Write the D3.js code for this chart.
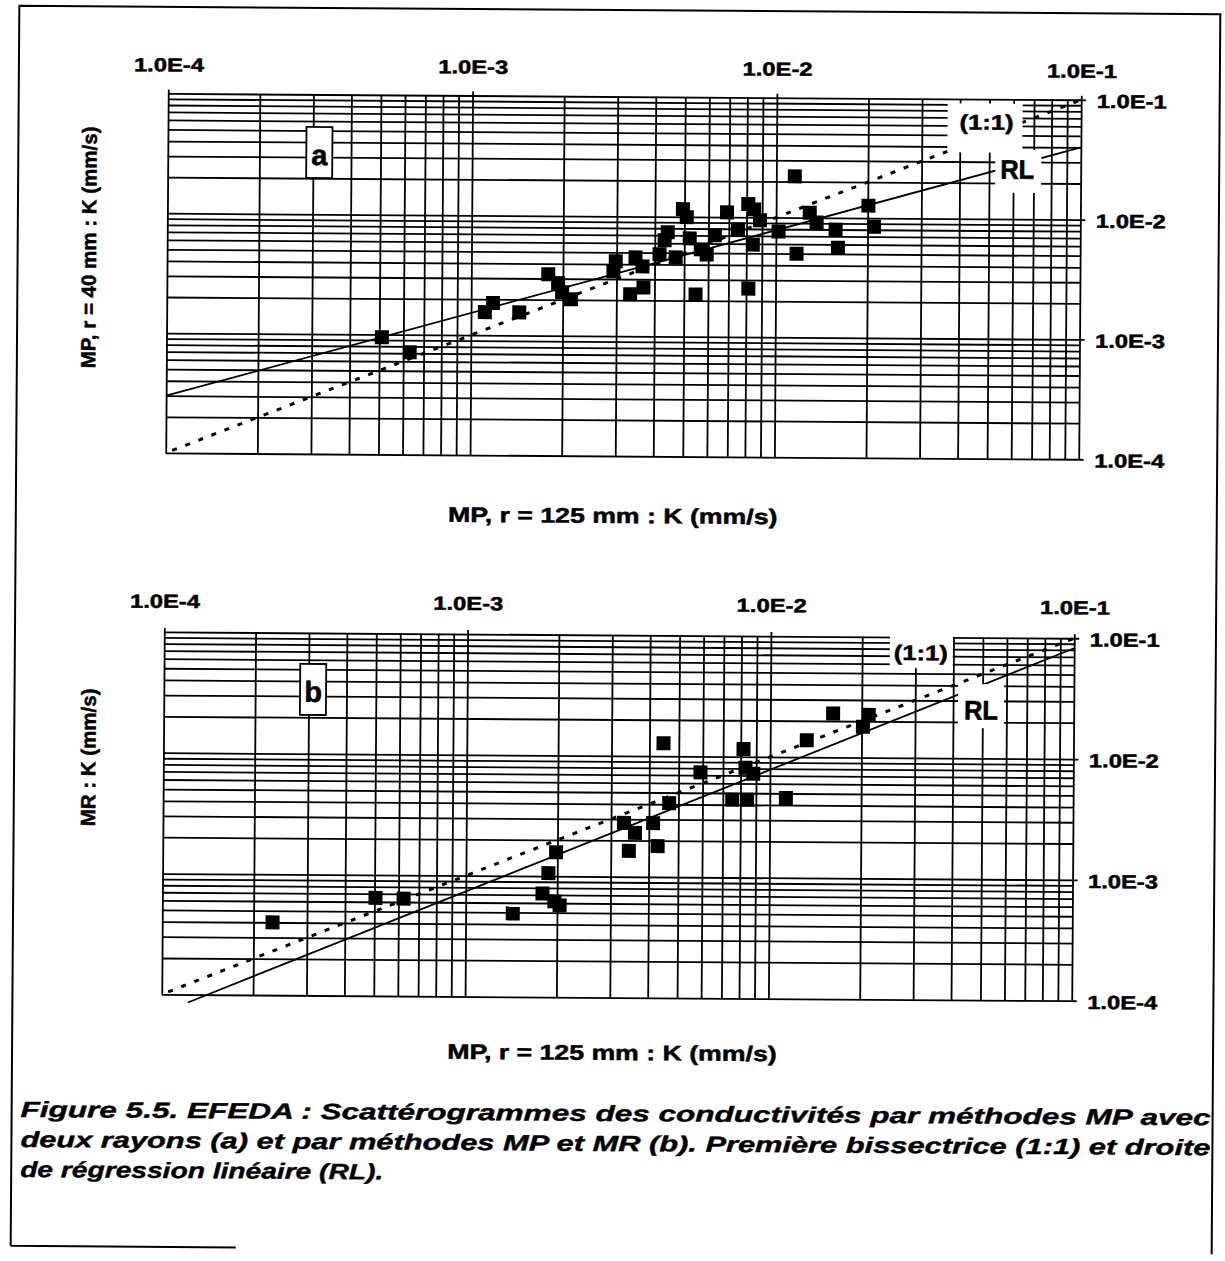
<!DOCTYPE html>
<html><head><meta charset="utf-8">
<script src="https://cdn.jsdelivr.net/npm/d3@7"></script>
<style>body{margin:0;background:#fff}svg{display:block}</style>
</head><body>
<svg id="fig" width="1225" height="1261"></svg>
<script>
// ---------------- DATA ----------------
const tickValues = [1e-4, 1e-3, 1e-2, 1e-1];
const tickLabels = ["1.0E-4", "1.0E-3", "1.0E-2", "1.0E-1"];

// Panel (a): MP r=125 mm (x) vs MP r=40 mm (y), K in mm/s
const aX = [5.1e-4, 6.3e-4, 1.11e-3, 1.18e-3, 1.44e-3, 1.79e-3, 1.93e-3, 1.99e-3, 2.13e-3, 2.98e-3,
            2.93e-3, 3.46e-3, 3.65e-3, 3.33e-3, 3.68e-3, 4.15e-3, 4.41e-3, 4.31e-3, 4.69e-3, 4.94e-3,
            5.09e-3, 5.21e-3, 5.67e-3, 5.93e-3, 5.46e-3, 6.3e-3, 6.9e-3, 7.5e-3, 8.1e-3, 8.47e-3,
            8.86e-3, 8.4e-3, 8.14e-3, 1.02e-2, 1.15e-2, 1.17e-2, 1.29e-2, 1.36e-2, 1.57e-2, 1.60e-2,
            2.01e-2, 2.10e-2];
const aY = [9.5e-4, 7.15e-4, 1.56e-3, 1.86e-3, 1.56e-3, 3.26e-3, 2.75e-3, 2.31e-3, 2.02e-3, 4.22e-3,
            3.48e-3, 4.56e-3, 3.84e-3, 2.24e-3, 2.56e-3, 4.86e-3, 7.42e-3, 6.35e-3, 4.58e-3, 1.16e-2,
            9.95e-3, 6.62e-3, 5.36e-3, 4.87e-3, 2.25e-3, 7.04e-3, 1.095e-2, 7.91e-3, 1.29e-2, 1.165e-2,
            9.45e-3, 5.92e-3, 2.54e-3, 7.64e-3, 2.21e-2, 5.0e-3, 1.10e-2, 9.12e-3, 7.98e-3, 5.64e-3,
            1.27e-2, 8.48e-3];

// Panel (b): MP r=125 mm (x) vs MR (y), K in mm/s
const bX = [2.31e-4, 5.04e-4, 6.24e-4, 1.43e-3, 1.79e-3, 1.96e-3, 2.04e-3, 1.87e-3, 1.98e-3, 3.31e-3,
            3.60e-3, 4.13e-3, 3.44e-3, 4.28e-3, 4.45e-3, 4.66e-3, 5.90e-3, 8.17e-3, 8.30e-3, 8.81e-3,
            7.52e-3, 8.42e-3, 1.13e-2, 1.32e-2, 1.61e-2, 2.11e-2, 2.02e-2];
const bY = [4.0e-4, 6.47e-4, 6.4e-4, 4.9e-4, 7.2e-4, 6.2e-4, 5.75e-4, 1.06e-3, 1.58e-3, 2.79e-3,
            2.31e-3, 2.79e-3, 1.64e-3, 1.80e-3, 1.28e-2, 4.09e-3, 7.38e-3, 1.16e-2, 8.11e-3, 7.25e-3,
            4.41e-3, 4.41e-3, 4.58e-3, 1.38e-2, 2.31e-2, 2.26e-2, 1.80e-2];

// Reference lines (x, y endpoints in data units)
const bisectorLine = [[1.05e-4, 1.05e-4], [1e-1, 1e-1]];        // (1:1)
const regressionA = [[1e-4, 3.0e-4], [1e-1, 4.0e-2]];             // RL (a)
const regressionB = [[1.22e-4, 8.6e-5], [1e-1, 8.26e-2]];         // RL (b)

const xTitle = "MP, r = 125 mm : K (mm/s)";
const yTitleA = "MP, r = 40 mm : K (mm/s)";
const yTitleB = "MR : K (mm/s)";
const captionLines = [
  "Figure 5.5. EFEDA : Scattérogrammes des conductivités par méthodes MP avec",
  "deux rayons (a) et par méthodes MP et MR (b). Première bissectrice (1:1) et droite",
  "de régression linéaire (RL)."
];

// ---------------- DRAWING ----------------
const FONT = "'Liberation Sans', Arial, Helvetica, sans-serif";
const svg = d3.select("#fig");
svg.append("rect").attr("width", 1225).attr("height", 1261).attr("fill", "#fff");
const root = svg.append("g").attr("transform", "rotate(0.4,612,630)");

function widen(sel, k, center) {
  sel.each(function () {
    const t = d3.select(this);
    const L = this.getComputedTextLength();
    t.attr("textLength", L * k).attr("lengthAdjust", "spacingAndGlyphs");
    if (center) t.attr("text-anchor", "start").attr("x", (+t.attr("x") || 0) - L * k / 2);
  });
}
function fixLen(sel, len) {
  sel.attr("textLength", len).attr("lengthAdjust", "spacingAndGlyphs");
}
function heavy(sel, w) {
  sel.attr("fill", "#000").attr("stroke", "#000").attr("stroke-width", w).attr("stroke-linejoin", "round");
}

// outer frame
root.append("path")
  .attr("d", "M15,1250 L15,10 L1216,10 L1216,1250 M15,1250 L240,1250")
  .attr("fill", "none").attr("stroke", "#000").attr("stroke-width", 2);

const GRIDW = 1.8;

function drawPanel(cfg) {
  const x = d3.scaleLog().domain([1e-4, 1e-1]).range([cfg.x0, cfg.x1]);
  const y = d3.scaleLog().domain([1e-4, 1e-1]).range([cfg.y1, cfg.y0]);
  const g = root.append("g");

  // vertical grid
  const gv = g.append("g").attr("transform", `translate(0,${cfg.y1})`)
    .call(d3.axisBottom(x).tickValues(x.ticks()).tickSize(-(cfg.y1 - cfg.y0)).tickFormat(""));
  gv.select(".domain").remove();
  gv.selectAll("line").attr("stroke", "#000").attr("stroke-width", GRIDW);
  // horizontal grid
  const gh = g.append("g").attr("transform", `translate(${cfg.x0},0)`)
    .call(d3.axisRight(y).tickValues(y.ticks()).tickSize(cfg.x1 - cfg.x0).tickFormat(""));
  gh.select(".domain").remove();
  gh.selectAll("line").attr("stroke", "#000").attr("stroke-width", GRIDW);

  // top axis labels
  const top = g.append("g").attr("transform", `translate(0,${cfg.y0})`)
    .call(d3.axisTop(x).tickValues(tickValues).tickFormat((d, i) => tickLabels[i]).tickSize(4).tickPadding(cfg.topPad));
  top.select(".domain").remove();
  top.selectAll("line").attr("stroke", "#000").attr("stroke-width", GRIDW);
  top.selectAll("text").attr("font-family", FONT).attr("font-size", 19).attr("font-weight", "bold").call(heavy, 0.5);
  widen(top.selectAll("text"), 1.25, true);

  // right axis labels
  const right = g.append("g").attr("transform", `translate(${cfg.x1},0)`)
    .call(d3.axisRight(y).tickValues(tickValues).tickFormat((d, i) => tickLabels[i]).tickSize(5).tickPadding(10.5));
  right.select(".domain").remove();
  right.selectAll("line").attr("stroke", "#000").attr("stroke-width", GRIDW);
  right.selectAll("text").attr("font-family", FONT).attr("font-size", 19).attr("font-weight", "bold")
    .attr("dy", "0.40em").call(heavy, 0.5);
  widen(right.selectAll("text"), 1.25, false);

  const line = d3.line().x(d => x(d[0])).y(d => y(d[1]));
  // 1:1 dotted
  g.append("path").datum(bisectorLine).attr("d", line)
    .attr("fill", "none").attr("stroke", "#000").attr("stroke-width", 3).attr("stroke-dasharray", "5,9");
  // regression
  g.append("path").datum(cfg.reg).attr("d", line)
    .attr("fill", "none").attr("stroke", "#000").attr("stroke-width", 1.8);

  // label boxes
  const lb = cfg.labels;
  g.append("rect").attr("x", lb.one.bx).attr("y", lb.one.by).attr("width", lb.one.bw).attr("height", lb.one.bh).attr("fill", "#fff");
  g.append("rect").attr("x", lb.rl.bx).attr("y", lb.rl.by).attr("width", lb.rl.bw).attr("height", lb.rl.bh).attr("fill", "#fff");
  g.append("text").attr("x", lb.one.tx).attr("y", lb.one.ty).text("(1:1)")
    .attr("font-family", FONT).attr("font-size", 21).attr("font-weight", "bold").attr("text-anchor", "middle")
    .call(heavy, 0.5).call(s => fixLen(s, 54));
  g.append("text").attr("x", lb.rl.tx).attr("y", lb.rl.ty).text("RL")
    .attr("font-family", FONT).attr("font-size", 27).attr("font-weight", "bold").attr("text-anchor", "middle")
    .call(heavy, 0.6).call(s => fixLen(s, 34));

  // panel letter box
  g.append("rect").attr("x", lb.letter.bx).attr("y", lb.letter.by).attr("width", 26).attr("height", 51)
    .attr("fill", "#fff").attr("stroke", "#000").attr("stroke-width", 1.8);
  g.append("text").attr("x", lb.letter.bx + 13).attr("y", lb.letter.ty).text(cfg.letter)
    .attr("font-family", FONT).attr("font-size", 29).attr("font-weight", "bold").attr("text-anchor", "middle")
    .call(heavy, 0.6);

  // points
  const pts = cfg.xs.map((v, i) => [v, cfg.ys[i]]);
  g.append("g").selectAll("rect").data(pts).join("rect")
    .attr("x", d => x(d[0]) - 7).attr("y", d => y(d[1]) - 7)
    .attr("width", 14).attr("height", 14).attr("fill", "#000");

  // axis titles
  const xt = g.append("text").attr("x", cfg.xtx).attr("y", cfg.xty).text(xTitle)
    .attr("font-family", FONT).attr("font-size", 21).attr("font-weight", "bold").call(heavy, 0.5);
  widen(xt, 1.27, true);
  g.append("text").attr("transform", `translate(${cfg.ytx},${cfg.yty}) rotate(-90)`)
    .attr("text-anchor", "middle").attr("dy", "0.36em").text(cfg.yTitle)
    .attr("font-family", FONT).attr("font-size", 20.5).attr("font-weight", "bold").call(heavy, 0.5);
}

drawPanel({
  x0: 164.5, x1: 1077.5, y0: 96.5, y1: 456, topPad: 18,
  xs: aX, ys: aY, reg: regressionA, letter: "a", yTitle: yTitleA,
  xtx: 612, xty: 523, ytx: 86, yty: 251,
  labels: {
    one: { bx: 944, by: 101, bw: 75, bh: 49, tx: 983, ty: 127 },
    rl: { bx: 992, by: 147, bw: 46, bh: 43, tx: 1014, ty: 176 },
    letter: { bx: 303, by: 129, ty: 167 }
  }
});
drawPanel({
  x0: 164.3, x1: 1074.3, y0: 635, y1: 997.5, topPad: 20,
  xs: bX, ys: bY, reg: regressionB, letter: "b", yTitle: yTitleB,
  xtx: 615, xty: 1060, ytx: 89, yty: 761,
  labels: {
    one: { bx: 890, by: 632, bw: 63, bh: 34, tx: 921, ty: 658 },
    rl: { bx: 958.5, by: 681.5, bw: 46, bh: 44, tx: 981.5, ty: 717 },
    letter: { bx: 300.5, by: 666, ty: 704 }
  }
});

// caption
const cap = root.append("g").attr("font-family", FONT).attr("font-size", 22)
  .attr("font-weight", "bold").attr("font-style", "italic");
cap.selectAll("text").data(captionLines).join("text")
  .attr("x", 24).attr("y", (d, i) => 1121 + i * 30).text(d => d)
  .call(heavy, 0.4)
  .each(function (d, i) {
    if (i < 2) fixLen(d3.select(this), 1190);
    else widen(d3.select(this), 1.28, false);
  });
</script>
</body></html>
